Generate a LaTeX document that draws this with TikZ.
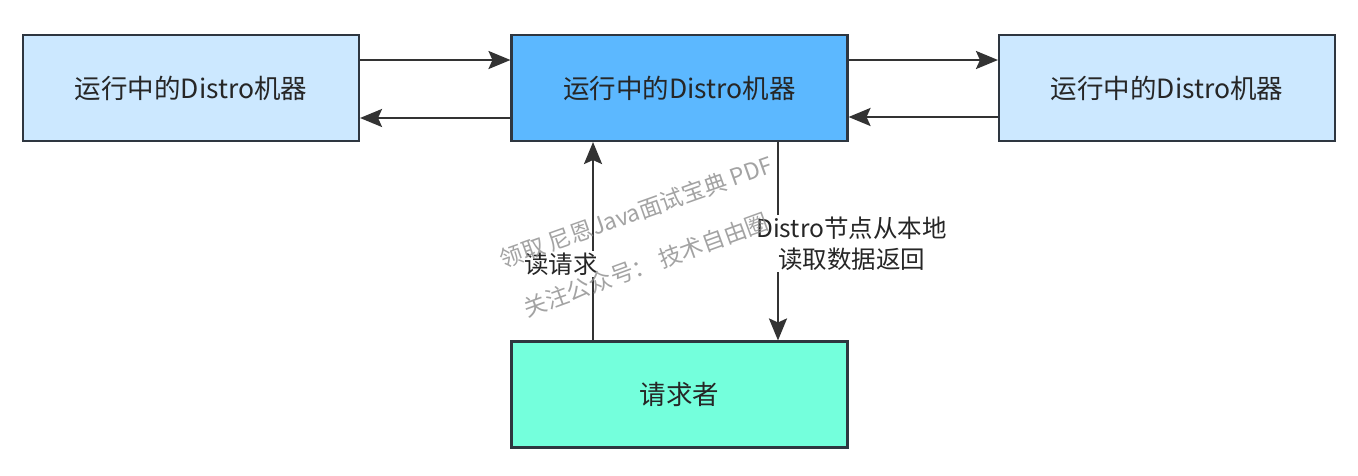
\documentclass[tikz,border=0pt]{standalone}
\usepackage{fontspec}
\setmainfont{Noto Sans CJK SC}
\usepackage{xcolor}
\usetikzlibrary{positioning, arrows.meta, calc}
\definecolor{cPEER}{HTML}{CCE8FF}
\definecolor{cSELF}{HTML}{5CB8FF}
\definecolor{cCLIENT}{HTML}{74FFDC}
\definecolor{cEDGE}{HTML}{2E3640}
\definecolor{cLINK}{HTML}{333333}
\tikzset{
  nodebox/.style={
    draw=cEDGE, line width=1.2pt,
    fill=#1,
    text=black!85,
    align=center,
    minimum width=6.72cm,
    minimum height=2.12cm,
    inner sep=0pt,
    font=\fontsize{0.53cm}{0.66cm}\selectfont
  },
  link/.style={
    -{Stealth[length=4.4mm,width=3.6mm,inset=0.8mm]},
    line width=1.4pt,
    draw=cLINK
  },
  linklabel/.style={
    fill=white,
    inner sep=1pt,
    align=center,
    text=black!85,
    font=\fontsize{0.49cm}{0.62cm}\selectfont
  },
  wmark/.style={
    text=black!45,
    opacity=0.8,
    inner sep=0pt,
    font=\fontsize{0.46cm}{0.5cm}\selectfont
  }
}

\begin{document}
\begin{tikzpicture}[x=0.02cm, y=-0.02cm]
  \useasboundingbox (0,0) rectangle (1358,476);
  \node[nodebox=cSELF] (self) at (679.5,88) {运行中的Distro机器};
  \node[nodebox=cPEER] (peerl) at (191,88) {运行中的Distro机器};
  \node[nodebox=cPEER] (peerr) at (1167,88) {运行中的Distro机器};
  \node[nodebox=cCLIENT] (client) at (679.5,394.5) {请求者};

  % sync between machines
  \draw[link] ([yshift=0.56cm]peerl.east) -- ([yshift=0.56cm]self.west);
  \draw[link] ([yshift=-0.6cm]self.west) -- ([yshift=-0.6cm]peerl.east);
  \draw[link] ([yshift=0.56cm]self.east) -- ([yshift=0.56cm]peerr.west);
  \draw[link] ([yshift=-0.58cm]peerr.west) -- ([yshift=-0.58cm]self.east);

  % read request and reply
  \draw[link] ([xshift=-1.73cm]client.north) -- ([xshift=-1.73cm]self.south);
  \draw[link] ([xshift=1.97cm]self.south) -- ([xshift=1.97cm]client.north);
  \node[linklabel] (askl) at (561,264) {读请求};
  \node[linklabel] (replyl) at (851.5,243.5) {Distro节点从本地\\读取数据返回};

  \node[wmark, rotate=19.5] (mark1) at (636,212) {领取 尼恩Java面试宝典 PDF};
  \node[wmark, rotate=20] (mark2) at (646,265) {关注公众号：\ 技术自由圈};
\end{tikzpicture}
\end{document}
